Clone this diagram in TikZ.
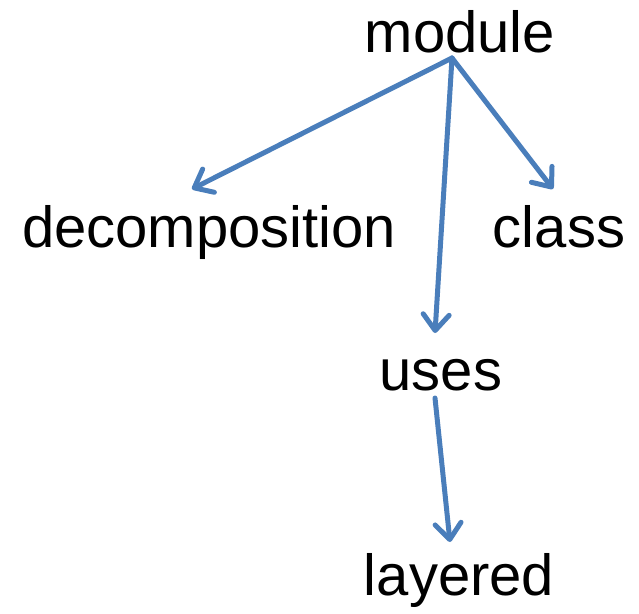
\documentclass[tikz,border=0pt]{standalone}
\usepackage{fontspec}
\setmainfont{Liberation Sans}
\usetikzlibrary{arrows.meta}
\definecolor{linkblue}{HTML}{4A7EBB}
\begin{document}
\begin{tikzpicture}[x=1pt,y=-1pt,
  term/.style={anchor=base, inner sep=0pt, outer sep=0pt,
    text height=42pt, text depth=12pt,
    font=\fontsize{58}{70}\selectfont},
  link/.style={draw=linkblue, line width=5pt, line cap=round,
    -{Straight Barb[length=16pt,width=26pt,line cap=round,line join=round]}}]
  \useasboundingbox (0,0) rectangle (639,613);

  \node[term] (module) at (460,52) {module};
  \node[term] (decomp) at (209,247) {decomposition};
  \node[term] (class) at (559,247) {class};
  \node[term] (uses) at (441,390) {uses};
  \node[term] (layered) at (459,595) {layered};

  \coordinate (root) at ([shift={(-8pt,6pt)}]module.south);
  \draw[link] (root) -- ([shift={(-17pt,16pt)}]decomp.north);
  \draw[link] (root) -- ([shift={(-6pt,16pt)}]class.north);
  \draw[link] (root) -- ([shift={(-6pt,15pt)}]uses.north);
  \draw[link] ([shift={(-6pt,4pt)}]uses.south) -- ([shift={(-9pt,11pt)}]layered.north);
\end{tikzpicture}
\end{document}
